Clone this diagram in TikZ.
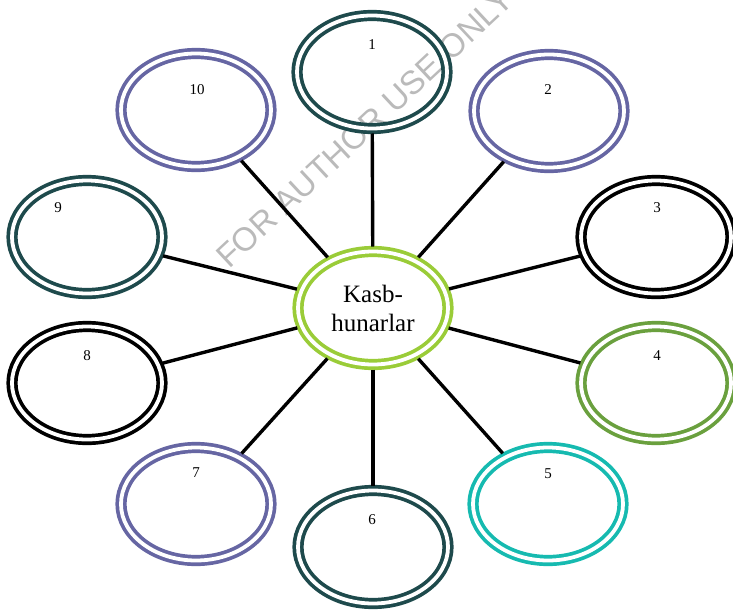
\documentclass[tikz,border=0pt]{standalone}
\usepackage{fontspec}
\setmainfont{Liberation Serif}
\setsansfont{Liberation Sans}
\usetikzlibrary{shapes.geometric}

\definecolor{tealdark}{RGB}{30,74,76}
\definecolor{lilac}{RGB}{102,102,163}
\definecolor{leaf}{RGB}{106,160,62}
\definecolor{aqua}{RGB}{22,186,176}
\definecolor{lime}{RGB}{154,204,56}

\begin{document}
\begin{tikzpicture}[x=1pt, y=-1pt]
		\tikzstyle{bubble} = [ellipse, draw, double, line width=3.7pt, double distance=3.8pt, minimum width=150pt, minimum height=113pt, inner sep=0pt, outer sep=5pt]
		\tikzstyle{num} = [font=\fontsize{15}{17}\selectfont]
		\tikzstyle{wmark} = [font=\sffamily\fontsize{33}{33}\selectfont, text=black!27, rotate=43, anchor=base west, inner sep=0pt]

		\useasboundingbox (0,0) rectangle (733,610);

		% watermark
		\node[wmark] (wm) at (229,270) {FOR AUTHOR USE ONLY};

		\path[line width=3.4pt]
		node[bubble, lime, align=center, font=\fontsize{25}{29}\selectfont, text=black] (hub) at (373,308) {Kasb-\\hunarlar}
		node[bubble, tealdark] (b1) at (372,72) {}
		node[bubble, lilac] (b2) at (549,111) {}
		node[bubble, black] (b3) at (656,237) {}
		node[bubble, leaf] (b4) at (656,383) {}
		node[bubble, aqua] (b5) at (548,504) {}
		node[bubble, tealdark] (b6) at (373,547) {}
		node[bubble, lilac] (b7) at (196,504) {}
		node[bubble, black] (b8) at (87,383) {}
		node[bubble, tealdark] (b9) at (87,237) {}
		node[bubble, lilac] (b10) at (196,110) {}

		(hub) edge (b1)
		(hub) edge (b2)
		(hub) edge (b3)
		(hub) edge (b4)
		(hub) edge (b5)
		(hub) edge (b6)
		(hub) edge (b7)
		(hub) edge (b8)
		(hub) edge (b9)
		(hub) edge (b10)
		;

		% numbers
		\node[num] (n1) at (372,45) {1};
		\node[num] (n2) at (548,90) {2};
		\node[num] (n3) at (657,208) {3};
		\node[num] (n4) at (657,356) {4};
		\node[num] (n5) at (548,474) {5};
		\node[num] (n6) at (372,520) {6};
		\node[num] (n7) at (196,473) {7};
		\node[num] (n8) at (87,356) {8};
		\node[num] (n9) at (58,208) {9};
		\node[num] (n10) at (197,90) {10};
		\end{tikzpicture}
\end{document}
